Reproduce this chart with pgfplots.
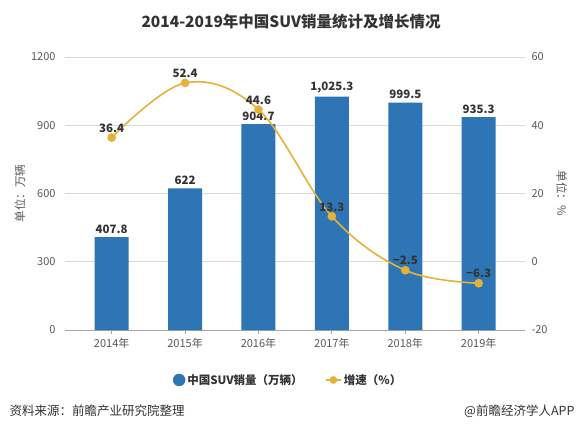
\documentclass[border=0pt]{standalone}
\usepackage{pgfplots}
\usepackage{pgfplotstable}
\pgfplotsset{compat=1.18}
\usepackage{fontspec}
\setmainfont{Noto Sans CJK SC}
\definecolor{barblue}{RGB}{46,117,182}
\definecolor{gold}{RGB}{229,178,56}
\definecolor{ticklab}{RGB}{89,89,89}
\definecolor{gridc}{RGB}{217,217,217}
\definecolor{axc}{RGB}{166,166,166}
\definecolor{txt}{RGB}{51,51,51}
\pgfplotstableread{
x y label
0 407.8 407.8
1 622 622
2 904.7 904.7
3 1025.3 1,025.3
4 999.5 999.5
5 935.3 935.3
}\sales
\pgfplotstableread{
x y label
0 36.4 36.4
1 52.4 52.4
2 44.6 44.6
3 13.3 13.3
4 -2.5 −2.5
5 -6.3 −6.3
}\growth
\begin{document}
\begin{tikzpicture}
\path[use as bounding box, fill=white] (0,0) rectangle (582pt,432pt);
\node[font=\fontsize{15.5}{18}\selectfont\bfseries, text=txt] at (291pt,410pt) {2014-2019年中国SUV销量统计及增长情况};
\node[font=\fontsize{12.5}{14}\selectfont, text=txt, anchor=west] at (6pt,21pt) {资料来源：前瞻产业研究院整理};
\node[font=\fontsize{12.5}{14}\selectfont, text=txt, anchor=east] at (578pt,21pt) {@前瞻经济学人APP};
\begin{axis}[
  at={(65pt,102pt)}, anchor=south west,
  scale only axis, width=460pt, height=273pt,
  xmin=-0.636, xmax=5.631,
  ymin=0, ymax=1200, ytick={0,300,...,1200},
  xtick={0,...,5},
  xticklabels={2014年,2015年,2016年,2017年,2018年,2019年},
  axis x line*=bottom, axis y line*=left,
  y axis line style={draw=none},
  x axis line style={draw=axc, line width=0.8pt},
  major y tick style={draw=none},
  major x tick style={draw=axc, line width=0.8pt},
  tick align=outside, major tick length=4pt,
  ymajorgrids, grid style={draw=gridc, line width=0.7pt},
  /pgf/number format/assume math mode=true,
  /pgf/number format/1000 sep={},
  tick label style={font=\fontsize{11}{13}\selectfont, text=ticklab},
  yticklabel style={xshift=-2pt},
  xticklabel style={yshift=-1pt},
  ylabel={单位：万辆},
  ylabel style={at={(axis description cs:-0.098,0.5)}, anchor=center, font=\fontsize{11.5}{13}\selectfont, text=ticklab},
  clip=false,
]
\addplot[ybar, bar width=34pt, fill=barblue, draw=none,
  point meta=explicit symbolic,
  nodes near coords,
  every node near coord/.append style={font=\fontsize{11.5}{13}\selectfont\bfseries, text=txt, anchor=south, yshift=0pt}]
  table[x=x, y=y, meta=label] {\sales};
\end{axis}
\begin{axis}[
  at={(65pt,102pt)}, anchor=south west,
  scale only axis, width=460pt, height=273pt,
  xmin=-0.636, xmax=5.631,
  ymin=-20, ymax=60, ytick={-20,0,...,60},
  axis x line=none, axis y line*=right,
  y axis line style={draw=none},
  major y tick style={draw=none},
  /pgf/number format/assume math mode=true,
  tick label style={font=\fontsize{11}{13}\selectfont, text=ticklab},
  yticklabel style={xshift=3pt},
  ylabel={单位：\%},
  ylabel style={at={(axis description cs:1.08,0.5)}, anchor=center, rotate=180, font=\fontsize{11.5}{13}\selectfont, text=ticklab},
  clip=false,
  legend style={at={(axis description cs:0.485,-0.183)}, anchor=center, draw=none, fill=none,
    legend columns=2, font=\fontsize{11.5}{13}\selectfont\bfseries, text=txt,
    /tikz/every even column/.append style={column sep=20pt}},
]
\addlegendimage{legend image code/.code={\fill[barblue] (0.2cm,0cm) circle (6pt);}}
\addlegendentry{中国SUV销量（万辆）}
\addplot[gold, line width=1.6pt, smooth, tension=0.6,
  mark=*, mark size=3.5pt, mark options={fill=gold, draw=gold},
  point meta=explicit symbolic,
  nodes near coords,
  every node near coord/.append style={font=\fontsize{11.5}{13}\selectfont\bfseries, text=txt, anchor=south, yshift=1pt},
  legend image code/.code={\draw[gold, line width=1.6pt] (0cm,0cm) -- (0.55cm,0cm); \fill[gold] (0.275cm,0cm) circle (3pt);}]
  table[x=x, y=y, meta=label] {\growth};
\addlegendentry{增速（\%）}
\end{axis}
\end{tikzpicture}
\end{document}
